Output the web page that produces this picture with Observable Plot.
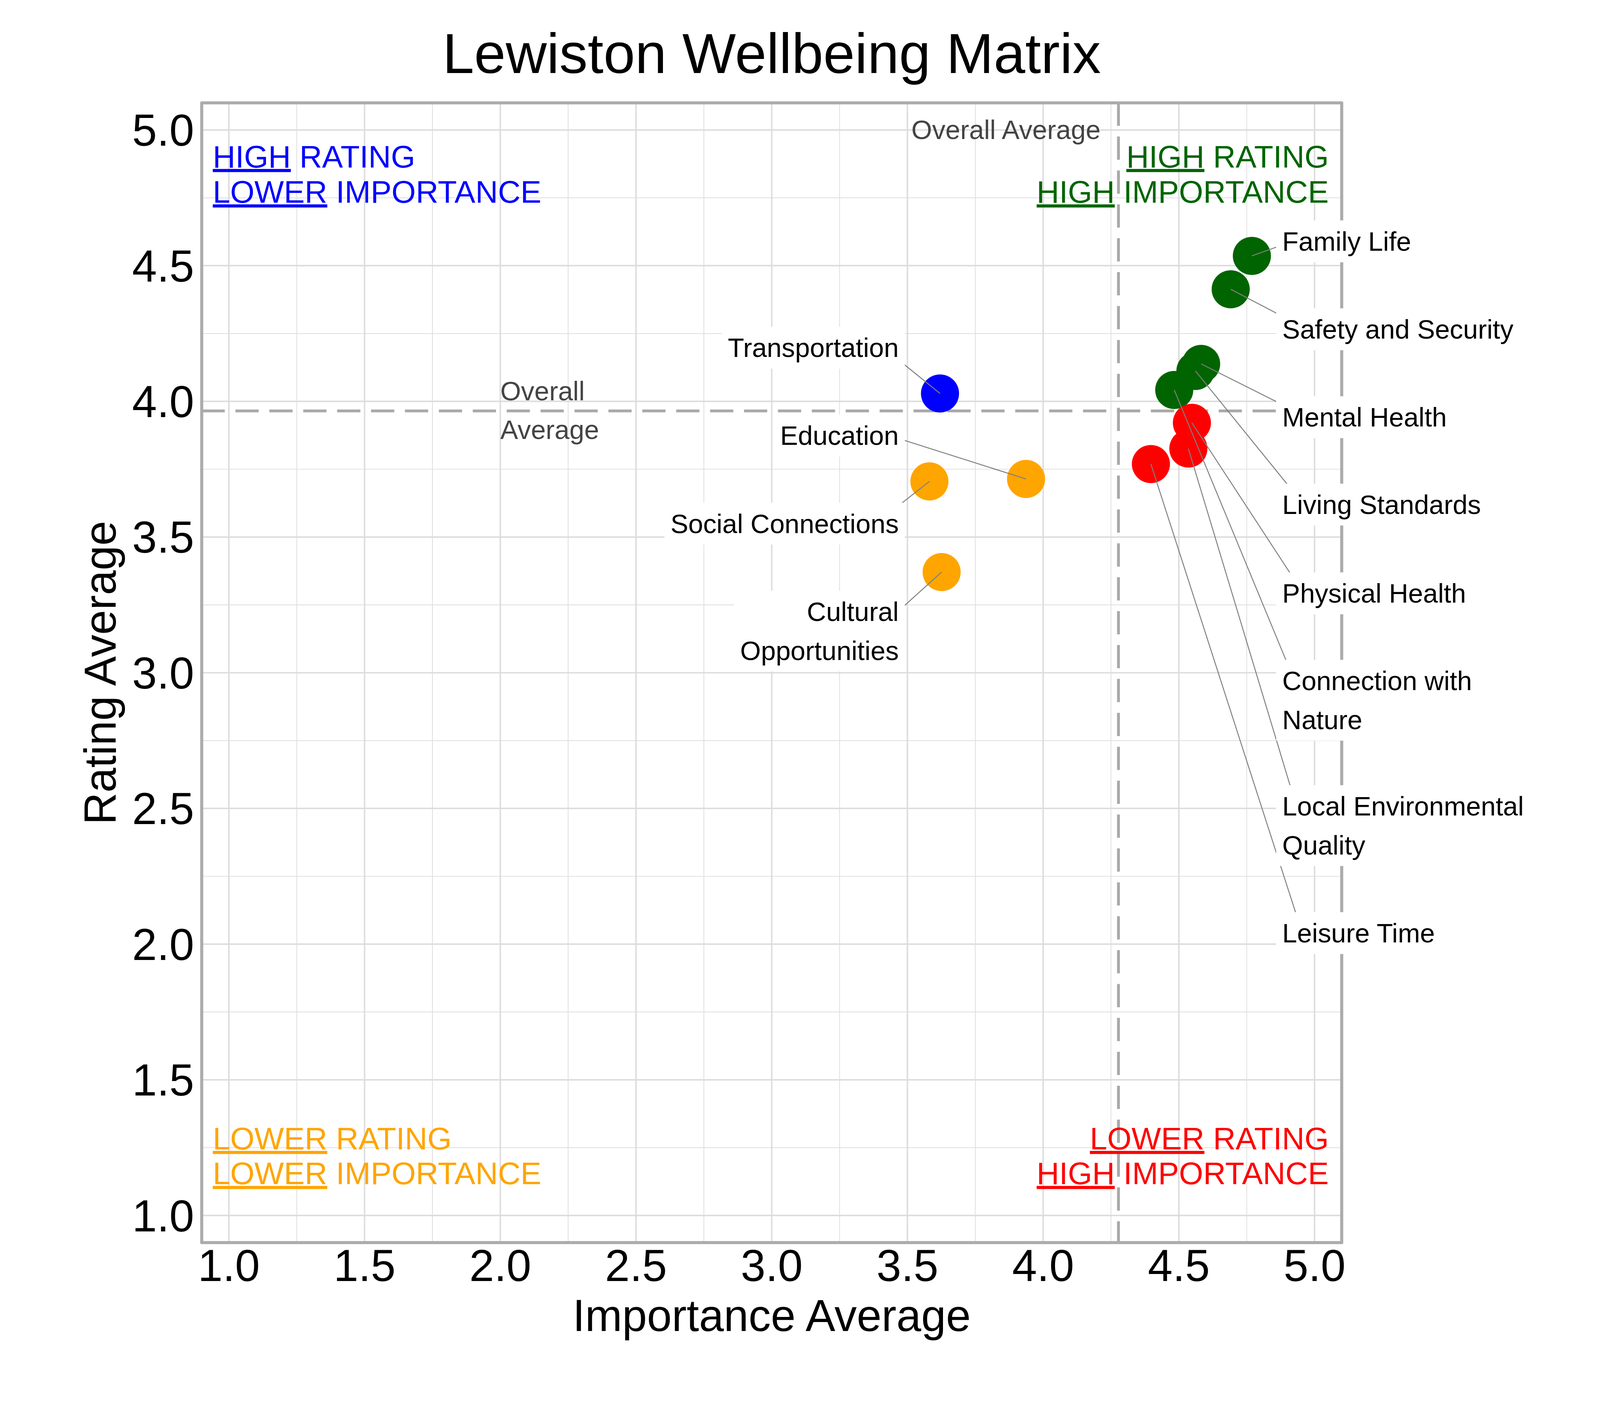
<!DOCTYPE html>
<html>
<head>
<meta charset="utf-8">
<script src="https://cdn.jsdelivr.net/npm/d3@7"></script>
<script src="https://cdn.jsdelivr.net/npm/@observablehq/plot@0.6"></script>
<style>
  body { margin: 0; background: #ffffff; }
  svg text { white-space: pre; }
</style>
</head>
<body>
<div id="chart"></div>
<script>
// ---------- data ----------
const title = "Lewiston Wellbeing Matrix";
const xLabel = "Importance Average";
const yLabel = "Rating Average";
const averageLabel = "Overall Average";
const averageLabelLeft = "Overall\nAverage";

const items = [
  "Family Life", "Safety and Security", "Mental Health", "Living Standards",
  "Connection with\nNature", "Physical Health", "Local Environmental\nQuality", "Leisure Time",
  "Transportation", "Education", "Social Connections", "Cultural\nOpportunities"
];
const importance = [4.769, 4.691, 4.582, 4.561, 4.483, 4.548, 4.535, 4.397, 3.620, 3.937, 3.581, 3.626];
const rating     = [4.536, 4.413, 4.138, 4.112, 4.042, 3.921, 3.826, 3.769, 4.029, 3.714, 3.705, 3.371];
// repelled label anchor positions (data units), as placed in the original
const labelImportance = [4.881, 4.881, 4.881, 4.881, 4.881, 4.881, 4.881, 4.881, 3.468, 3.468, 3.468, 3.468];
const labelRating     = [4.601, 4.277, 3.953, 3.631, 2.910, 3.304, 2.448, 2.052, 4.209, 3.885, 3.561, 3.165];

const quadrantNames = [
  "High rating, high importance", "High rating, lower importance",
  "Lower rating, lower importance", "Lower rating, high importance"
];
const quadrantColors = ["#006400", "#0000FF", "#FFA500", "#FF0000"];
const quadrantText = [
  ["HIGH RATING", "HIGH IMPORTANCE"],
  ["HIGH RATING", "LOWER IMPORTANCE"],
  ["LOWER RATING", "LOWER IMPORTANCE"],
  ["LOWER RATING", "HIGH IMPORTANCE"]
];

const majorTicks = [1.0, 1.5, 2.0, 2.5, 3.0, 3.5, 4.0, 4.5, 5.0];
const minorTicks = [1.25, 1.75, 2.25, 2.75, 3.25, 3.75, 4.25, 4.75];
const domain = [0.9, 5.1];

// ---------- derived ----------
const avgImportance = d3.mean(importance);
const avgRating = d3.mean(rating);

const data = items.map((name, i) => {
  const hr = rating[i] >= avgRating, hi = importance[i] >= avgImportance;
  const q = hr ? (hi ? 0 : 1) : (hi ? 3 : 2);
  return {name, importance: importance[i], rating: rating[i],
          lx: labelImportance[i], ly: labelRating[i], quadrant: quadrantNames[q]};
});
const rightLabels = data.filter(d => d.lx > d.importance);
const leftLabels = data.filter(d => d.lx <= d.importance);

// ---------- styles ----------
const FONT = "Liberation Sans, Arial, Helvetica, sans-serif";
const segInset = 0.07;
const corners = [
  {frameAnchor: "top-right", textAnchor: "end", dx: -34, dys: [169.5, 262.5]},
  {frameAnchor: "top-left", textAnchor: "start", dx: 29, dys: [169.5, 262.5]},
  {frameAnchor: "bottom-left", textAnchor: "start", dx: 29, dys: [-245, -153]},
  {frameAnchor: "bottom-right", textAnchor: "end", dx: -34, dys: [-245, -153]}
];

const quadrantMarks = [];
quadrantText.forEach((lines, q) => {
  const c = corners[q];
  lines.forEach((line, k) => {
    quadrantMarks.push(Plot.text([line], {
      frameAnchor: c.frameAnchor, textAnchor: c.textAnchor, lineAnchor: "bottom",
      dx: c.dx, dy: c.dys[k], fontSize: 82, fill: quadrantColors[q],
      ariaLabel: "quadrant label"
    }));
  });
});

const svg = Plot.plot({
  width: 4200,
  height: 3600,
  marginLeft: 529,
  marginRight: 678.5,
  marginTop: 269.5,
  marginBottom: 338,
  style: {fontFamily: FONT, background: "#ffffff", color: "#000000"},
  x: {domain, label: null},
  y: {domain, label: null},
  color: {domain: quadrantNames, range: quadrantColors},
  marks: [
    Plot.gridX(minorTicks, {stroke: "#DEDEDE", strokeOpacity: 1, strokeWidth: 2}),
    Plot.gridY(minorTicks, {stroke: "#DEDEDE", strokeOpacity: 1, strokeWidth: 2}),
    Plot.gridX(majorTicks, {stroke: "#DCDCDC", strokeOpacity: 1, strokeWidth: 3.8}),
    Plot.gridY(majorTicks, {stroke: "#DCDCDC", strokeOpacity: 1, strokeWidth: 3.8}),
    Plot.ruleX([avgImportance], {stroke: "#A9A9A9", strokeWidth: 7.5, strokeDasharray: "61,28"}),
    Plot.ruleY([avgRating], {stroke: "#A9A9A9", strokeWidth: 7.5, strokeDasharray: "61,28"}),
    Plot.frame({stroke: "#ABABAB", strokeWidth: 8, strokeLinejoin: "round"}),
    Plot.axisX(majorTicks, {tickFormat: d3.format(".1f"), tickSize: 0, tickPadding: 18, fontSize: 117, label: null}),
    Plot.axisY(majorTicks, {tickFormat: d3.format(".1f"), tickSize: 0, tickPadding: 20, fontSize: 117, label: null, dy: 4}),
    Plot.text([title], {frameAnchor: "top", textAnchor: "middle", lineAnchor: "bottom", dy: -78.5, fontSize: 149, fill: "#000000"}),
    Plot.text([xLabel], {frameAnchor: "bottom", textAnchor: "middle", lineAnchor: "bottom", dy: 232, fontSize: 117, fill: "#000000"}),
    Plot.text([yLabel], {frameAnchor: "left", textAnchor: "middle", lineAnchor: "bottom", rotate: -90, dx: -226, fontSize: 117, fill: "#000000"}),
    ...quadrantMarks,
    Plot.text([averageLabel], {x: avgImportance, frameAnchor: "top", textAnchor: "end", lineAnchor: "bottom",
      dx: -47, dy: 95.5, fontSize: 70, fill: "#444444"}),
    Plot.text([averageLabelLeft], {x: majorTicks[2], y: avgRating, textAnchor: "start", lineAnchor: "middle",
      lineHeight: 1.46, dy: -10, fontSize: 70, fill: "#444444"}),
    Plot.dot(data, {x: "importance", y: "rating", r: 50, fill: "quadrant", stroke: "none"}),
    Plot.link(data, {
      x1: "importance", y1: "rating",
      x2: d => d.lx + (d.lx > d.importance ? segInset : -segInset), y2: "ly",
      stroke: "#7F7F7F", strokeWidth: 2.5
    }),
    Plot.text(rightLabels, {x: "lx", y: "ly", text: "name", textAnchor: "start", lineAnchor: "middle",
      lineHeight: 1.46, fontSize: 70, fill: "#000000", ariaLabel: "point label"}),
    Plot.text(leftLabels, {x: "lx", y: "ly", text: "name", textAnchor: "end", lineAnchor: "middle",
      lineHeight: 1.46, fontSize: 70, fill: "#000000", ariaLabel: "point label"})
  ]
});

document.getElementById("chart").append(svg);

// underline the first word of each quadrant label line
const quadSet = new Set(quadrantText.flat());
const labelSet = new Set(items.map(s => s.replace(/\n/g, "")));
const NS = "http://www.w3.org/2000/svg";
d3.select(svg).selectAll("text").each(function () {
  const s = this.textContent;
  if (quadSet.has(s) && this.children.length === 0) {
    const k = s.indexOf(" ");
    this.textContent = "";
    const t1 = document.createElementNS(NS, "tspan");
    t1.setAttribute("text-decoration", "underline");
    t1.style.textDecoration = "underline";
    t1.textContent = s.slice(0, k);
    const t2 = document.createElementNS(NS, "tspan");
    t2.textContent = s.slice(k);
    this.append(t1, t2);
  }
});
// white label boxes behind the repelled point labels
const pad = 16;
d3.select(svg).selectAll("text").each(function () {
  if (!labelSet.has(this.textContent)) return;
  const b = this.getBBox();
  const r = document.createElementNS(NS, "rect");
  r.setAttribute("x", b.x - pad);
  r.setAttribute("y", b.y - pad);
  r.setAttribute("width", b.width + 2 * pad);
  r.setAttribute("height", b.height + 2 * pad);
  r.setAttribute("fill", "#ffffff");
  r.setAttribute("stroke", "none");
  const tr = this.getAttribute("transform");
  if (tr) r.setAttribute("transform", tr);
  this.parentNode.insertBefore(r, this);
});
</script>
</body>
</html>
